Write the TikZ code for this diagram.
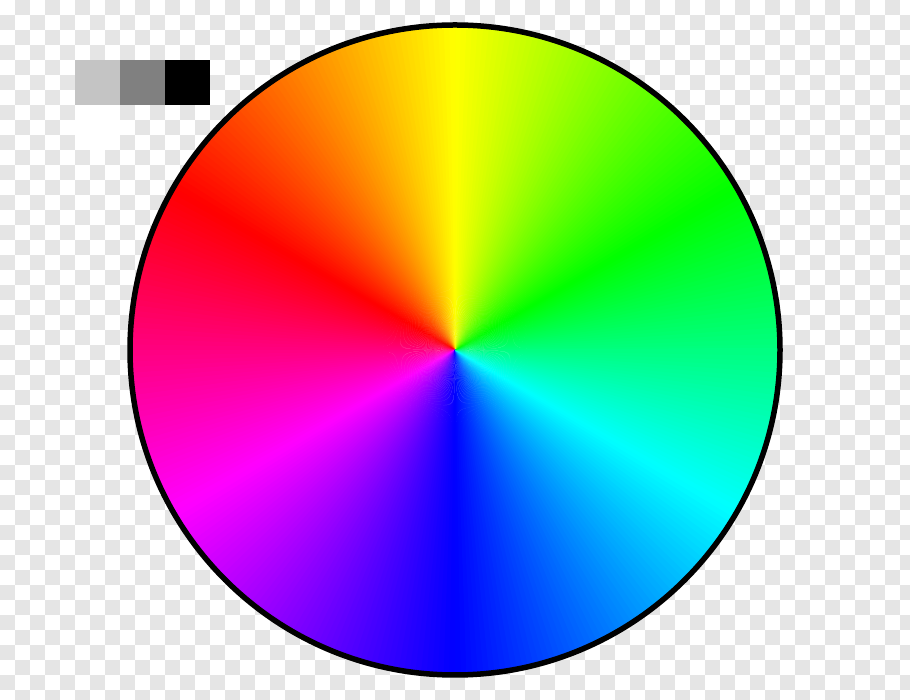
\documentclass[tikz,border=0pt]{standalone}
\definecolor{checkergray}{RGB}{229,229,229}
\definecolor{swlight}{RGB}{196,196,196}
\definecolor{swmid}{RGB}{128,128,128}
\tikzset{
  cell/.style={fill=checkergray},
  swatch/.style={draw=none},
  rim/.style={draw=black, line width=5.5pt}
}
\begin{document}
\begin{tikzpicture}[x=1pt,y=1pt]
\useasboundingbox (0,0) rectangle (910,700);
\clip (0,0) rectangle (910,700);
\fill[white] (0,0) rectangle (910,700);
% transparency checkerboard
\foreach \i in {0,...,60}{
  \foreach \j in {0,...,46}{
    \pgfmathtruncatemacro\p{mod(\i+\j,2)}
    \ifnum\p=1
      \path[cell] (15*\i,700-15*\j) rectangle ++(15,-15);
    \fi
  }
}
% swatches
\fill[swatch,swlight] (75,640) rectangle (120,595);
\fill[swatch,swmid] (120,640) rectangle (165,595);
\fill[swatch,black] (165,640) rectangle (210,595);
\fill[swatch,white] (75,595) rectangle (120,550);
% colour wheel
\coordinate (c) at (455,350);
\foreach \a in {0,...,359}{
  \pgfmathsetmacro\h{mod(150-\a-0.5+720,360)}
  \definecolor{hc}{Hsb}{\h,1,1}
  \fill[hc] (c) -- ++(\a:326) arc[start angle=\a, end angle=\a+1.4, radius=326] -- cycle;
}
\path[rim] (c) circle[radius=325];
\end{tikzpicture}
\end{document}
